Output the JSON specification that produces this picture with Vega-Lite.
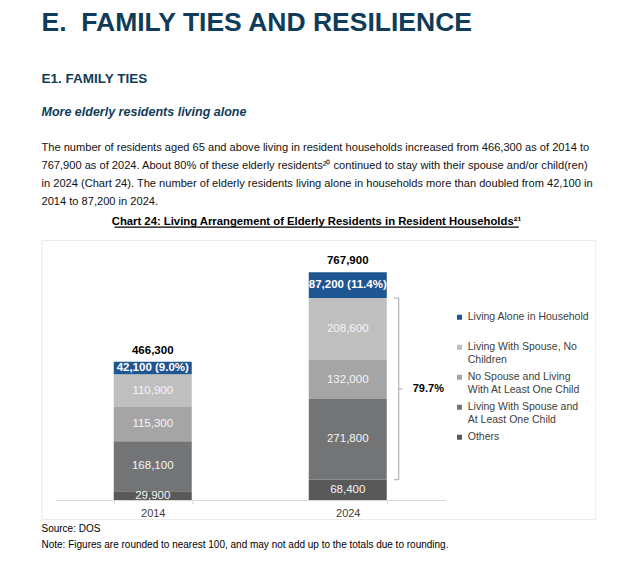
{
  "$schema": "https://vega.github.io/schema/vega-lite/v6.json",
  "background": "white",
  "padding": {"left": 40, "top": 10, "right": 0, "bottom": 0},
  "spacing": 0,
  "center": true,
  "resolve": {"legend": {"color": "independent"}},
  "config": {
    "view": {"stroke": null},
    "font": "Liberation Sans",
    "title": {"anchor": "start", "font": "Liberation Sans", "subtitleFont": "Liberation Sans"}
  },
  "datasets": {
    "segments": [
      {"year": "2014", "cat": "Others", "k": 1, "value": 29900, "label": "29,900"},
      {"year": "2014", "cat": "Living With Spouse and At Least One Child", "k": 2, "value": 168100, "label": "168,100"},
      {"year": "2014", "cat": "No Spouse and Living With At Least One Child", "k": 3, "value": 115300, "label": "115,300"},
      {"year": "2014", "cat": "Living With Spouse, No Children", "k": 4, "value": 110900, "label": "110,900"},
      {"year": "2014", "cat": "Living Alone in Household", "k": 5, "value": 42100, "label": "42,100 (9.0%)"},
      {"year": "2024", "cat": "Others", "k": 1, "value": 68400, "label": "68,400"},
      {"year": "2024", "cat": "Living With Spouse and At Least One Child", "k": 2, "value": 271800, "label": "271,800"},
      {"year": "2024", "cat": "No Spouse and Living With At Least One Child", "k": 3, "value": 132000, "label": "132,000"},
      {"year": "2024", "cat": "Living With Spouse, No Children", "k": 4, "value": 208600, "label": "208,600"},
      {"year": "2024", "cat": "Living Alone in Household", "k": 5, "value": 87200, "label": "87,200 (11.4%)"}
    ],
    "totals": [
      {"year": "2014", "total": 466300, "label": "466,300"},
      {"year": "2024", "total": 767900, "label": "767,900"}
    ],
    "bracket": [
      {"year": "2024", "lo": 68400, "hi": 680800, "mid": 374600, "label": "79.7%"}
    ]
  },
  "vconcat": [
    {
      "title": {
        "text": "E.\u00a0 FAMILY TIES AND RESILIENCE",
        "subtitle": "E1. FAMILY TIES",
        "fontSize": 26.5, "fontWeight": "bold", "color": "#0f3c58",
        "subtitleFontSize": 13.5, "subtitleFontWeight": "bold", "subtitleColor": "#0f3c58",
        "subtitlePadding": 35, "offset": 2, "anchor": "start"
      },
      "width": 554, "height": 19,
      "data": {"values": []},
      "mark": "text",
      "encoding": {}
    },
    {
      "title": {
        "text": "More elderly residents living alone",
        "subtitle": [
          "The number of residents aged 65 and above living in resident households increased from 466,300 as of 2014 to",
          "767,900 as of 2024. About 80% of these elderly residents²⁰ continued to stay with their spouse and/or child(ren)",
          "in 2024 (Chart 24). The number of elderly residents living alone in households more than doubled from 42,100 in",
          "2014 to 87,200 in 2024."
        ],
        "fontSize": 12.5, "fontWeight": "bold", "fontStyle": "italic", "color": "#0f3c58",
        "subtitleFontSize": 11.1, "subtitleFontWeight": "normal", "subtitleColor": "#111111",
        "subtitleLineHeight": 18, "subtitlePadding": 23, "offset": 2, "anchor": "start"
      },
      "width": 554, "height": 6,
      "data": {"values": []},
      "mark": "text",
      "encoding": {}
    },
    {
      "title": {
        "text": "Chart 24: Living Arrangement of Elderly Residents in Resident Households²¹",
        "fontSize": 11.3, "fontWeight": "bold", "color": "#000000",
        "anchor": "middle", "frame": "group", "offset": 0
      },
      "width": 403, "height": 0.01,
      "view": {"stroke": "#000000", "strokeWidth": 1.3},
      "data": {"values": []},
      "mark": "text",
      "encoding": {}
    },
    {
      "title": {"text": "\u00a0", "fontSize": 8, "offset": 3},
      "width": 554, "height": 279,
      "view": {"stroke": "#ebebeb", "strokeWidth": 1},
      "encoding": {
        "x": {
          "field": "year", "type": "nominal", "title": null,
          "scale": {"range": [14, 404], "paddingInner": 0.6, "paddingOuter": 0.3},
          "axis": {
            "offset": -19, "labelAngle": 0, "domainColor": "#d9d9d9", "tickColor": "#d9d9d9",
            "tickBand": "extent", "tickSize": 4, "labelPadding": 3,
            "labelFontSize": 11, "labelColor": "#404040", "labelFont": "Liberation Sans"
          }
        }
      },
      "layer": [
        {
          "data": {"name": "segments"},
          "mark": {"type": "bar"},
          "encoding": {
            "y": {
              "field": "value", "type": "quantitative", "stack": "zero", "axis": null,
              "scale": {"domain": [-64000, 876700], "nice": false, "zero": false}
            },
            "color": {
              "field": "cat", "type": "nominal",
              "scale": {
                "domain": ["Living Alone in Household", "Living With Spouse, No Children", "No Spouse and Living With At Least One Child", "Living With Spouse and At Least One Child", "Others"],
                "range": ["#1f5591", "#bfbfbf", "#a5a5a5", "#737476", "#595959"]
              },
              "legend": {
                "orient": "none", "legendX": 413, "legendY": 72, "direction": "vertical",
                "title": null, "symbolType": "square", "symbolSize": 25, "symbolStrokeWidth": 0,
                "labelFontSize": 10.5, "labelColor": "#404040", "labelFont": "Liberation Sans",
                "labelLimit": 0, "rowPadding": 6, "labelOffset": 3,
                "labelExpr": "datum.label == 'Living With Spouse, No Children' ? ['Living With Spouse, No', 'Children'] : datum.label == 'No Spouse and Living With At Least One Child' ? ['No Spouse and Living', 'With At Least One Child'] : datum.label == 'Living With Spouse and At Least One Child' ? ['Living With Spouse and', 'At Least One Child'] : [datum.label, '']"
              }
            },
            "order": {"field": "k", "type": "quantitative"}
          }
        },
        {
          "data": {"name": "segments"},
          "mark": {"type": "text", "color": "#f5f5f5", "fontSize": 11.5},
          "encoding": {
            "y": {"field": "value", "type": "quantitative", "stack": "zero", "bandPosition": 0.5, "axis": null},
            "detail": {"field": "cat", "type": "nominal"},
            "order": {"field": "k", "type": "quantitative"},
            "text": {"field": "label", "type": "nominal"},
            "opacity": {"condition": {"test": "datum.k == 5", "value": 0}, "value": 1}
          }
        },
        {
          "data": {"name": "segments"},
          "mark": {"type": "text", "color": "#ffffff", "fontSize": 11.5, "fontWeight": "bold"},
          "encoding": {
            "y": {"field": "value", "type": "quantitative", "stack": "zero", "bandPosition": 0.5, "axis": null},
            "detail": {"field": "cat", "type": "nominal"},
            "order": {"field": "k", "type": "quantitative"},
            "text": {"field": "label", "type": "nominal"},
            "opacity": {"condition": {"test": "datum.k == 5", "value": 1}, "value": 0}
          }
        },
        {
          "data": {"name": "totals"},
          "mark": {"type": "text", "color": "#000000", "fontSize": 11.5, "fontWeight": "bold", "dy": -11},
          "encoding": {
            "y": {"field": "total", "type": "quantitative", "axis": null},
            "text": {"field": "label", "type": "nominal"}
          }
        },
        {
          "data": {"name": "bracket"},
          "mark": {"type": "rule", "color": "#a6a6a6", "strokeWidth": 1, "xOffset": 51},
          "encoding": {
            "y": {"field": "lo", "type": "quantitative", "axis": null},
            "y2": {"field": "hi"}
          }
        },
        {
          "data": {"name": "bracket"},
          "mark": {"type": "rule", "color": "#a6a6a6", "strokeWidth": 1, "xOffset": 46, "x2Offset": 51},
          "encoding": {
            "x2": {"field": "year"},
            "y": {"field": "hi", "type": "quantitative", "axis": null}
          }
        },
        {
          "data": {"name": "bracket"},
          "mark": {"type": "rule", "color": "#a6a6a6", "strokeWidth": 1, "xOffset": 46, "x2Offset": 51},
          "encoding": {
            "x2": {"field": "year"},
            "y": {"field": "lo", "type": "quantitative", "axis": null}
          }
        },
        {
          "data": {"name": "bracket"},
          "mark": {"type": "rule", "color": "#a6a6a6", "strokeWidth": 1, "xOffset": 51, "x2Offset": 55},
          "encoding": {
            "x2": {"field": "year"},
            "y": {"field": "mid", "type": "quantitative", "axis": null}
          }
        },
        {
          "data": {"name": "bracket"},
          "mark": {"type": "text", "color": "#000000", "fontSize": 11, "fontWeight": "bold", "align": "left", "dx": 65},
          "encoding": {
            "y": {"field": "mid", "type": "quantitative", "axis": null},
            "text": {"field": "label", "type": "nominal"}
          }
        }
      ]
    },
    {
      "title": {
        "text": ["Source: DOS", "Note: Figures are rounded to nearest 100, and may not add up to the totals due to rounding."],
        "fontSize": 10, "fontWeight": "normal", "color": "#000000", "lineHeight": 16,
        "anchor": "start", "orient": "bottom", "offset": 3
      },
      "width": 554, "height": 1,
      "data": {"values": []},
      "mark": "text",
      "encoding": {}
    }
  ]
}
